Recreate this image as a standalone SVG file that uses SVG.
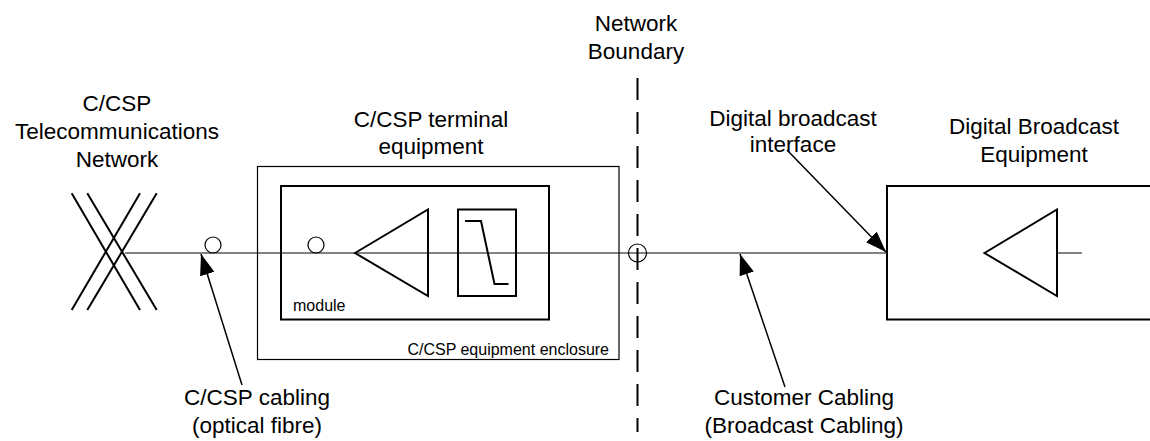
<svg xmlns="http://www.w3.org/2000/svg" width="1150" height="441" viewBox="0 0 1150 441">
<defs>
<marker id="ah" markerUnits="userSpaceOnUse" markerWidth="21" markerHeight="15" refX="21" refY="7.5" orient="auto">
<path d="M0,0 L21,7.5 L0,15 z" fill="#000"/>
</marker>
<style>
text{font-family:"Liberation Sans",Arial,sans-serif;fill:#000}
.lbl{font-size:22.5px;text-anchor:middle}
.sm{font-size:16px}
.sig{stroke:#5a5a5a;stroke-width:1.5;fill:none}
.thick{stroke:#000;stroke-width:2;fill:none}
.thin{stroke:#000;stroke-width:1.2;fill:none}
.arr{stroke:#000;stroke-width:1.5;fill:none;marker-end:url(#ah)}
</style>
</defs>
<rect width="1150" height="441" fill="#fff"/>

<g id="signal-line">
<line class="sig" x1="125" y1="253" x2="887" y2="253"/>
<line class="sig" x1="1057" y1="253" x2="1082" y2="253"/>
</g>

<g id="telecom-network">
<line class="thick" x1="71.7" y1="193.3" x2="140" y2="310" stroke-width="2.5"/>
<line class="thick" x1="87.3" y1="193.3" x2="156.7" y2="310" stroke-width="2.5"/>
<line class="thick" x1="140" y1="193.3" x2="71.7" y2="310" stroke-width="2.5"/>
<line class="thick" x1="156.7" y1="193.3" x2="87.3" y2="310" stroke-width="2.5"/>
<text class="lbl" x="117" y="111">C/CSP</text>
<text class="lbl" x="117" y="139">Telecommunications</text>
<text class="lbl" x="117" y="167">Network</text>
</g>

<g id="fibre-connector">
<circle class="thin" cx="213" cy="245" r="8"/>
</g>

<g id="enclosure">
<rect class="thin" x="257.5" y="166.5" width="361.5" height="193"/>
<text class="sm" x="609" y="355" text-anchor="end">C/CSP equipment enclosure</text>
<text class="lbl" x="431" y="127">C/CSP terminal</text>
<text class="lbl" x="431" y="154">equipment</text>
</g>

<g id="module">
<rect class="thick" x="281" y="186" width="268" height="133.5"/>
<circle class="thin" cx="316" cy="245" r="8"/>
<text class="sm" x="293" y="311">module</text>
</g>

<g id="amplifier">
<polygon class="thick" points="355,253 428,209.5 428,296" fill="#fff"/>
</g>

<g id="filter">
<rect class="thick" x="458" y="209.5" width="58" height="86.5" fill="#fff"/>
<polyline class="thick" points="465,221 481,221 494.5,284 508.5,284"/>
</g>

<g id="network-boundary">
<line x1="637.5" y1="78" x2="637.5" y2="432" stroke="#000" stroke-width="2" stroke-dasharray="22,12"/>
<circle class="thin" cx="637.5" cy="253" r="9"/>
<text class="lbl" x="636" y="31">Network</text>
<text class="lbl" x="636" y="59">Boundary</text>
</g>

<g id="broadcast-equipment">
<rect class="thick" x="887" y="186" width="300" height="133.5"/>
<polygon class="thick" points="984.5,253 1057,209.5 1057,296" fill="#fff"/>
<text class="lbl" x="1034" y="134">Digital Broadcast</text>
<text class="lbl" x="1034" y="162">Equipment</text>
</g>

<g id="labels">
<text class="lbl" x="793" y="126">Digital broadcast</text>
<text class="lbl" x="793" y="152">interface</text>
<text class="lbl" x="257" y="405">C/CSP cabling</text>
<text class="lbl" x="257" y="433">(optical fibre)</text>
<text class="lbl" x="804" y="405">Customer Cabling</text>
<text class="lbl" x="804" y="433">(Broadcast Cabling)</text>
</g>

<g id="connectors">
<line class="arr" x1="242" y1="385" x2="201" y2="254"/>
<line class="arr" x1="787" y1="150" x2="886" y2="252"/>
<line class="arr" x1="785" y1="387" x2="740" y2="254"/>
</g>
</svg>
